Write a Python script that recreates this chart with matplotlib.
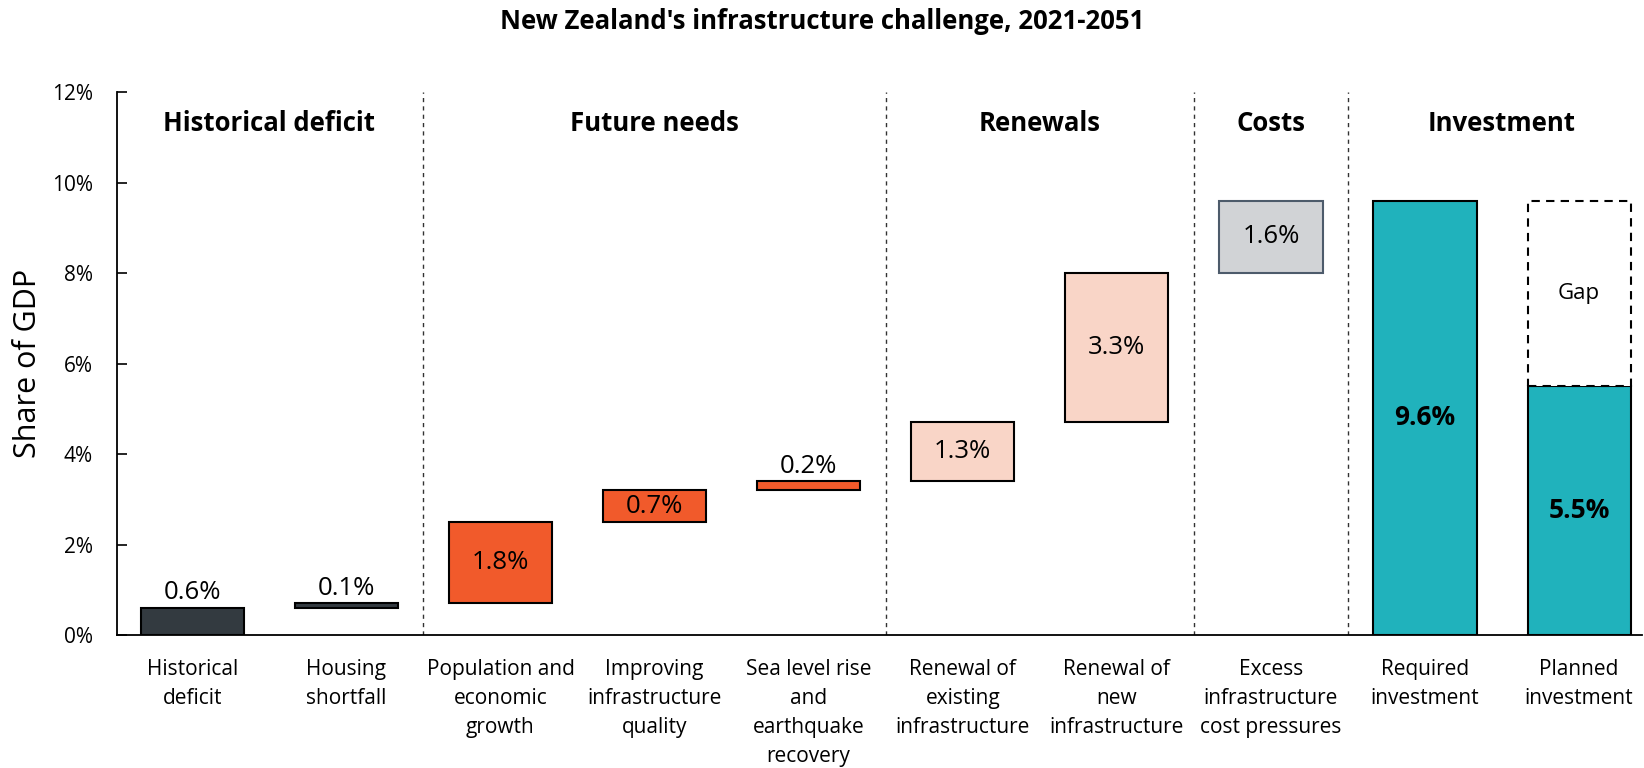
import matplotlib.pyplot as plt
import numpy as np

categories = ['Historical\ndeficit', 'Housing\nshortfall', 'Population and\neconomic\ngrowth',
              'Improving\ninfrastructure\nquality', 'Sea level rise\nand\nearthquake\nrecovery',
              'Renewal of\nexisting\ninfrastructure', 'Renewal of\nnew\ninfrastructure',
              'Excess\ninfrastructure\ncost pressures', 'Required\ninvestment', 'Planned\ninvestment']
# waterfall steps (share of GDP, %)
steps = [0.6, 0.1, 1.8, 0.7, 0.2, 1.3, 3.3, 1.6]
required = 9.6
planned = 5.5

groups = ['Historical deficit', 'Future needs', 'Renewals', 'Costs', 'Investment']
group_spans = [(0, 1), (2, 4), (5, 6), (7, 7), (8, 9)]

dark = '#333a40'
orange = '#f15a2b'
peach = '#f9d5c7'
grey = '#d1d3d6'
teal = '#20b2bc'
step_colors = [dark, dark, orange, orange, orange, peach, peach, grey]
step_edges = ['black'] * 7 + ['#4d5b6b']

plt.rcParams['font.family'] = ['Open Sans', 'DejaVu Sans']

fig = plt.figure(figsize=(16.44, 7.68), dpi=100)
ax = fig.add_axes([0.071, 0.173, 0.928, 0.707])

w = 0.67
vfs = 18.5
bottoms = np.concatenate([[0], np.cumsum(steps)[:-1]])
for i, (v, b) in enumerate(zip(steps, bottoms)):
    ax.bar(i, v, bottom=b, width=w, color=step_colors[i], edgecolor=step_edges[i], linewidth=1.5)
    label = '%.1f%%' % v
    if v < 0.5 or i < 2:
        ax.text(i, b + v + 0.06, label, ha='center', va='bottom', fontsize=vfs)
    else:
        ax.text(i, b + v / 2, label, ha='center', va='center', fontsize=vfs)

# investment bars
ax.bar(8, required, width=w, color=teal, edgecolor='black', linewidth=1.5)
ax.text(8, required / 2, '%.1f%%' % required, ha='center', va='center', fontsize=19, fontweight='bold')
ax.bar(9, planned, width=w, color=teal, edgecolor='black', linewidth=1.5)
ax.text(9, planned / 2, '%.1f%%' % planned, ha='center', va='center', fontsize=19, fontweight='bold')
ax.bar(9, required - planned, bottom=planned, width=w, color='white', edgecolor='black',
       linewidth=1.5, linestyle=(0, (4, 3)))
ax.text(9, planned + (required - planned) / 2, 'Gap', ha='center', va='center', fontsize=16)

# group separators and headers
for (a, b) in group_spans[:-1]:
    ax.axvline(b + 0.5, ymin=0, ymax=1, color='#333333', linewidth=1, linestyle=(0, (3, 3)))
for name, (a, b) in zip(groups, group_spans):
    ax.text((a + b) / 2, 11.3, name, ha='center', va='center', fontsize=18.5, fontweight='bold')

ax.set_xlim(-0.49, 9.41)
ax.set_ylim(0, 12)
ax.set_yticks(np.arange(0, 13, 2))
ax.set_yticklabels(['%d%%' % t for t in np.arange(0, 13, 2)], fontsize=15)
ax.tick_params(axis='y', direction='in', length=7, width=1.2, pad=17)
ax.set_xticks(range(len(categories)))
ax.set_xticklabels(categories, fontsize=15, linespacing=1.5)
ax.tick_params(axis='x', length=0, pad=17)
ax.spines['top'].set_visible(False)
ax.spines['right'].set_visible(False)
ax.spines['left'].set_linewidth(1.3)
ax.spines['bottom'].set_linewidth(1.3)
ax.set_ylabel('Share of GDP', fontsize=22, va='center')
ax.yaxis.set_label_coords(-0.058, 0.5)

fig.suptitle("New Zealand's infrastructure challenge, 2021-2051", fontsize=18.5, fontweight='bold', y=0.99)

fig.savefig('out.png', dpi=100)
